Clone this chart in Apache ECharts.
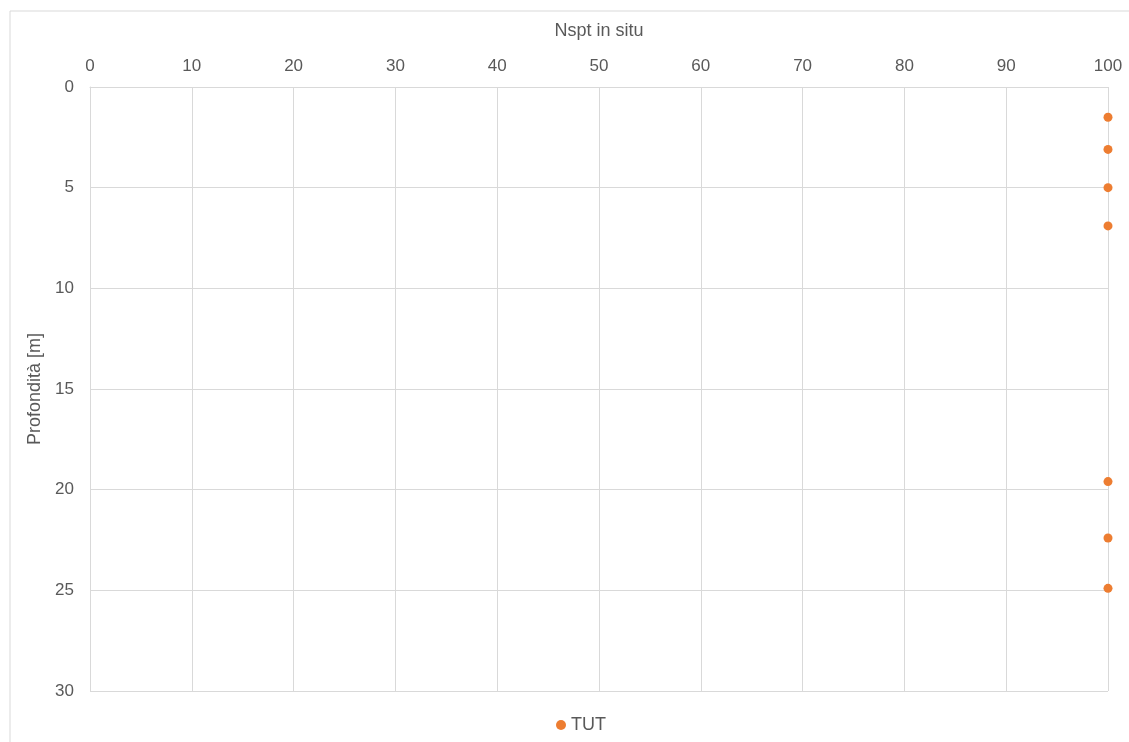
<!DOCTYPE html>
<html>
<head>
<meta charset="utf-8">
<script src="https://cdn.jsdelivr.net/npm/echarts@6/dist/echarts.min.js"></script>
<style>
html,body{margin:0;padding:0;background:#fff;}
#c{width:1129px;height:742px;}
</style>
</head>
<body>
<div id="c"></div>
<script>
const seriesName = 'TUT';
const nsptValues = [100, 100, 100, 100, 100, 100, 100];
const depthValues = [1.5, 3.1, 5.0, 6.9, 19.6, 22.4, 24.9];
const xTitle = 'Nspt in situ';
const yTitle = 'Profondità [m]';

const data = nsptValues.map((v, i) => [v, depthValues[i]]);
const chart = echarts.init(document.getElementById('c'));
const ff = 'Liberation Sans, Arial, sans-serif';
const labelStyle = {color: '#595959', fontSize: 17, fontFamily: ff};
const titleStyle = {color: '#595959', fontSize: 18, fontFamily: ff};
chart.setOption({
  animation: false,
  graphic: [{
    type: 'rect', left: 7.5, top: 8.5, silent: true,
    shape: {width: 1140, height: 750},
    style: {fill: 'none', stroke: '#d9d9d9', lineWidth: 1}
  }],
  grid: {left: 90, right: 21, top: 87, bottom: 51, containLabel: false},
  xAxis: {
    type: 'value', position: 'top', min: 0, max: 100, interval: 10,
    name: xTitle, nameLocation: 'middle', nameGap: 47,
    nameTextStyle: titleStyle,
    axisLine: {show: true, lineStyle: {color: '#d9d9d9'}},
    axisTick: {show: false},
    axisLabel: Object.assign({margin: 12}, labelStyle),
    splitLine: {show: true, lineStyle: {color: '#d9d9d9'}}
  },
  yAxis: {
    type: 'value', inverse: true, min: 0, max: 30, interval: 5,
    name: yTitle, nameLocation: 'middle', nameGap: 43, nameRotate: 90,
    nameTextStyle: titleStyle,
    axisLine: {show: true, lineStyle: {color: '#d9d9d9'}},
    axisTick: {show: false},
    axisLabel: Object.assign({margin: 16}, labelStyle),
    splitLine: {show: true, lineStyle: {color: '#d9d9d9'}}
  },
  legend: {
    bottom: 3, left: 551, itemWidth: 10, itemHeight: 10, itemGap: 4,
    textStyle: {color: '#595959', fontSize: 18, fontFamily: ff},
    data: [{name: seriesName, icon: 'circle'}]
  },
  series: [{
    name: seriesName, type: 'scatter', data: data,
    symbol: 'circle', symbolSize: 9,
    itemStyle: {color: '#ed7d31', opacity: 1},
    clip: false
  }]
});
</script>
</body>
</html>
